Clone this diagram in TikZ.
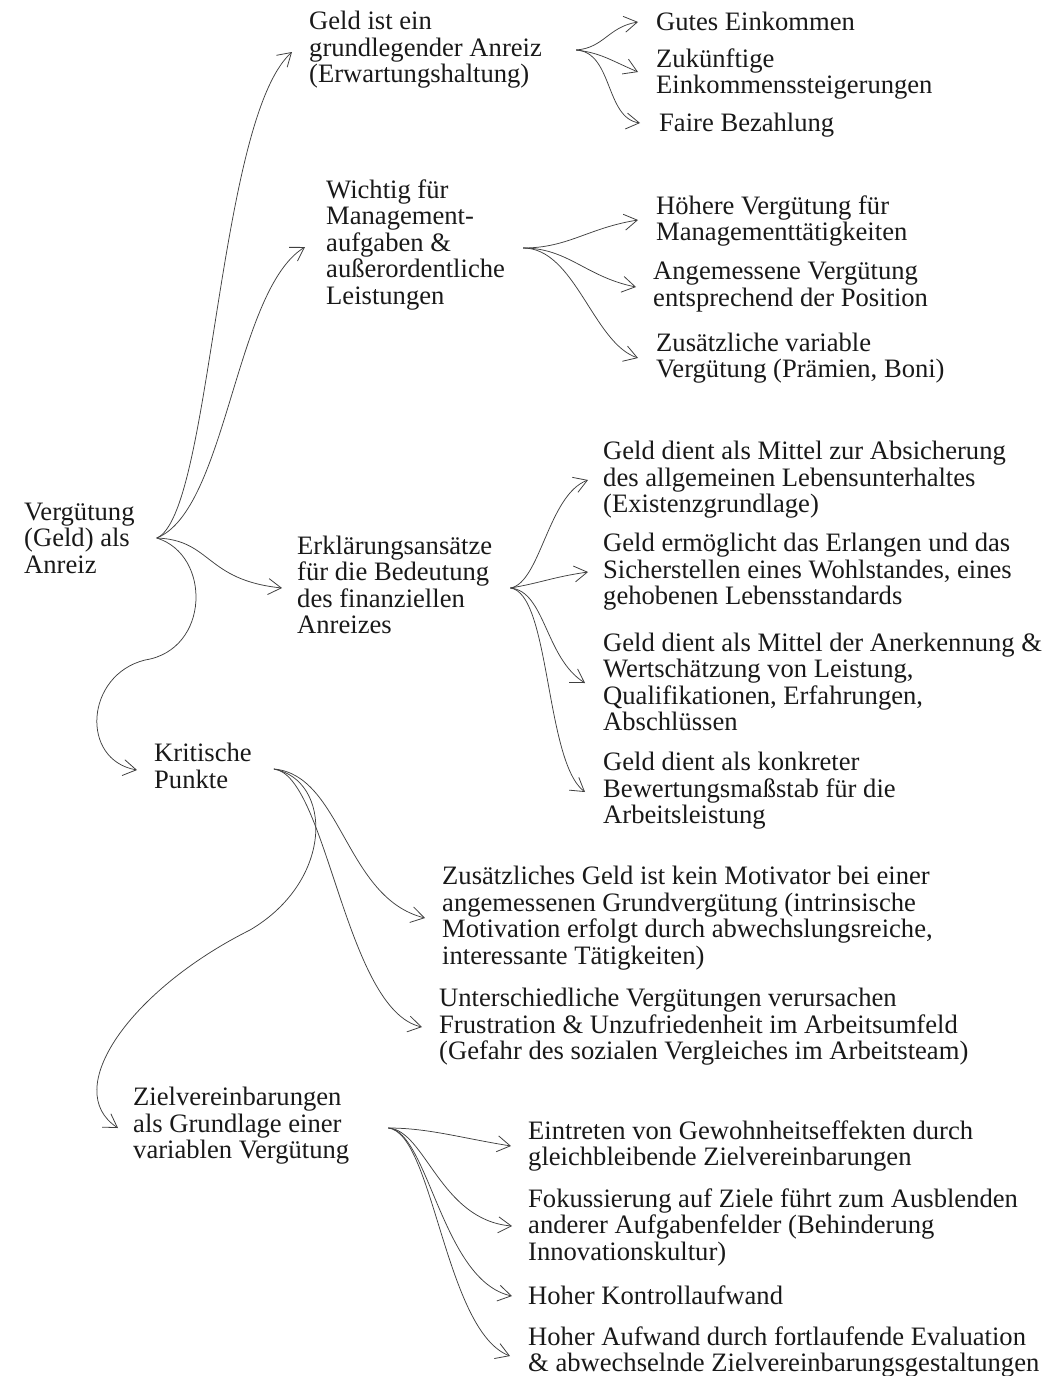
\documentclass[tikz,border=0pt]{standalone}
\usepackage{fontspec}
\setmainfont{Liberation Serif}
\usetikzlibrary{arrows.meta}
\begin{document}
\begin{tikzpicture}[x=1pt,y=-1pt,
  txt/.style={anchor=west, inner sep=0pt, align=left, font=\fontsize{26.6}{26.5}\selectfont, text=black!90},
  con/.style={draw=black!75, line width=0.75pt, -{Straight Barb[length=13pt,width=16pt,line width=0.8pt]}}]
\useasboundingbox (0,0) rectangle (1051,1376);
% nodes
\node[txt] (root) at (24,538) {Vergütung\\(Geld) als\\Anreiz};
\node[txt] (A) at (309,50) {Geld ist ein\\grundlegender Anreiz\\(Erwartungshaltung)};
\node[txt] (A1) at (656,21) {Gutes Einkommen};
\node[txt] (A2) at (656,74) {Zukünftige\\Einkommenssteigerungen};
\node[txt] (A3) at (659,125) {Faire Bezahlung};
\node[txt] (B) at (326,245) {Wichtig für\\Management-\\aufgaben \&\\außerordentliche\\Leistungen};
\node[txt] (B1) at (656,221) {Höhere Vergütung für\\Managementtätigkeiten};
\node[txt] (B2) at (653,287) {Angemessene Vergütung\\entsprechend der Position};
\node[txt] (B3) at (656,358) {Zusätzliche variable\\Vergütung (Prämien, Boni)};
\node[txt] (C) at (297,585) {Erklärungsansätze\\für die Bedeutung\\des finanziellen\\Anreizes};
\node[txt] (C1) at (603,480) {Geld dient als Mittel zur Absicherung\\des allgemeinen Lebensunterhaltes\\(Existenzgrundlage)};
\node[txt] (C2) at (603,572) {Geld ermöglicht das Erlangen und das\\Sicherstellen eines Wohlstandes, eines\\gehobenen Lebensstandards};
\node[txt] (C3) at (603,682) {Geld dient als Mittel der Anerkennung \&\\Wertschätzung von Leistung,\\Qualifikationen, Erfahrungen,\\Abschlüssen};
\node[txt] (C4) at (603,791) {Geld dient als konkreter\\Bewertungsmaßstab für die\\Arbeitsleistung};
\node[txt] (D) at (154,766) {Kritische\\Punkte};
\node[txt] (D1) at (442,918) {Zusätzliches Geld ist kein Motivator bei einer\\angemessenen Grundvergütung (intrinsische\\Motivation erfolgt durch abwechslungsreiche,\\interessante Tätigkeiten)};
\node[txt] (D2) at (439,1027) {Unterschiedliche Vergütungen verursachen\\Frustration \& Unzufriedenheit im Arbeitsumfeld\\(Gefahr des sozialen Vergleiches im Arbeitsteam)};
\node[txt] (E) at (133,1126) {Zielvereinbarungen\\als Grundlage einer\\variablen Vergütung};
\node[txt] (E1) at (528,1146) {Eintreten von Gewohnheitseffekten durch\\gleichbleibende Zielvereinbarungen};
\node[txt] (E2) at (528,1227) {Fokussierung auf Ziele führt zum Ausblenden\\anderer Aufgabenfelder (Behinderung\\Innovationskultur)};
\node[txt] (E3) at (528,1295) {Hoher Kontrollaufwand};
\node[txt] (E4) at (528,1352) {Hoher Aufwand durch fortlaufende Evaluation\\\& abwechselnde Zielvereinbarungsgestaltungen};
% branch points
\coordinate (r0) at ([shift={(22,0)}]root.east);
\coordinate (a0) at ([shift={(34,0)}]A.east);
\coordinate (b0) at ([shift={(18,3)}]B.east);
\coordinate (c0) at ([shift={(18,3)}]C.east);
\coordinate (d0) at ([shift={(22,3)}]D.east);
\coordinate (e0) at ([shift={(39,2)}]E.east);
% root connectors
\draw[con] (r0) .. controls +(55,-23) and +(-75,68) .. ([shift={(-17,2)}]A.west);
\draw[con] (r0) .. controls +(70,-28) and +(-70,43) .. ([shift={(-21,2)}]B.west);
\draw[con] (r0) .. controls +(55,2) and +(-77,-8) .. ([shift={(-15,3)}]C.west);
\draw[con] (r0) .. controls +(55,17) and (210,650) .. (145,660)
  .. controls (85,675) and (80,760) .. ([shift={(-17,4)}]D.west);
% A children
\draw[con] (a0) .. controls +(28,-2) and +(-30,5) .. ([shift={(-18,1)}]A1.west);
\draw[con] (a0) .. controls +(25,3) and +(-28,-12) .. ([shift={(-18,-2)}]A2.west);
\draw[con] (a0) .. controls +(37,2) and +(-35,-5) .. ([shift={(-19,-2)}]A3.west);
% B children
\draw[con] (b0) .. controls +(45,0) and +(-50,8) .. ([shift={(-18,-1)}]B1.west);
\draw[con] (b0) .. controls +(45,0) and +(-50,-10) .. ([shift={(-17,0)}]B2.west);
\draw[con] (b0) .. controls +(52,0) and +(-45,-15) .. ([shift={(-18,0)}]B3.west);
% C children
\draw[con] (c0) .. controls +(30,-5) and +(-40,15) .. ([shift={(-15,0)}]C1.west);
\draw[con] (c0) .. controls +(30,-5) and +(-35,5) .. ([shift={(-15,0)}]C2.west);
\draw[con] (c0) .. controls +(35,3) and +(-40,-25) .. ([shift={(-18,1)}]C3.west);
\draw[con] (c0) .. controls +(40,5) and +(-40,-30) .. ([shift={(-18,1)}]C4.west);
% D children
\draw[con] (d0) .. controls +(68,6) and +(-80,-20) .. ([shift={(-17,0)}]D1.west);
\draw[con] (d0) .. controls +(53,6) and +(-77,-17) .. ([shift={(-17,0)}]D2.west);
\draw[con] (d0) .. controls +(58,11) and (335,880) .. (250,930)
  .. controls (130,990) and (60,1090) .. ([shift={(-15,2)}]E.west);
% E children
\draw[con] (e0) .. controls +(40,0) and +(-50,-8) .. ([shift={(-17,0)}]E1.west);
\draw[con] (e0) .. controls +(37,2) and +(-72,-6) .. ([shift={(-16,-1)}]E2.west);
\draw[con] (e0) .. controls +(40,3) and +(-70,-15) .. ([shift={(-16,1)}]E3.west);
\draw[con] (e0) .. controls +(45,5) and +(-65,-25) .. ([shift={(-18,4)}]E4.west);
\end{tikzpicture}
\end{document}
